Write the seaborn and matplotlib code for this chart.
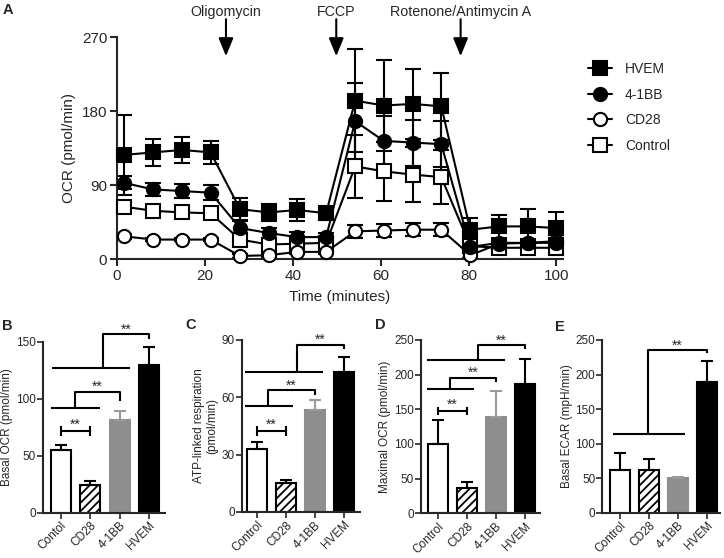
import matplotlib
matplotlib.use("Agg")
import matplotlib.pyplot as plt
from matplotlib.lines import Line2D
import seaborn as sns

# ------------------------------------------
# Data
# ------------------------------------------
# Panel A: OCR time course
time_min = [1.6, 8.2, 14.8, 21.3, 28.0, 34.5, 41.0, 47.6,
            54.2, 60.7, 67.3, 73.8, 80.4, 87.0, 93.5, 100.0]
hvem = [127, 130, 133, 130, 61, 57, 60, 56, 193, 187, 189, 186, 36, 40, 40, 38]
hvem_err = [49, 16, 16, 14, 13, 10, 13, 8, 63, 55, 43, 41, 14, 14, 21, 20]
bb41 = [93, 85, 83, 81, 38, 32, 27, 27, 168, 144, 142, 140, 15, 20, 20, 20]
bb41_err = [8, 8, 8, 9, 8, 6, 6, 5, 47, 30, 28, 28, 5, 5, 5, 5]
cd28 = [28, 24, 24, 24, 4, 5, 9, 9, 34, 35, 36, 36, 5, 19, 20, 22]
cd28_err = [3, 2, 2, 2, 2, 2, 2, 2, 8, 8, 8, 8, 3, 4, 4, 4]
control = [64, 59, 57, 56, 24, 18, 19, 20, 113, 107, 103, 100, 16, 14, 14, 14]
control_err = [4, 4, 4, 4, 4, 3, 3, 3, 38, 36, 33, 33, 4, 4, 4, 4]

inject_times = [24.8, 49.9, 78.2]
inject_labels = ["Oligomycin", "FCCP", "Rotenone/Antimycin A"]

# Panels B-E: bar charts
groups_b = ["Contol", "CD28", "4-1BB", "HVEM"]
groups = ["Control", "CD28", "4-1BB", "HVEM"]
basal_ocr = [55, 24.5, 81, 130]
basal_ocr_err = [4.5, 3, 8.5, 15]
atp_resp = [33, 15, 53.5, 73]
atp_resp_err = [3.5, 2, 5, 8]
max_ocr = [100, 36.5, 139, 187]
max_ocr_err = [34, 8, 38, 36]
basal_ecar = [62, 61.5, 50, 189]
basal_ecar_err = [24, 16, 2, 30]

# ------------------------------------------
# Style
# ------------------------------------------
sns.set_style("ticks")
plt.rcParams['font.family'] = ['Liberation Sans', 'DejaVu Sans']
plt.rcParams['hatch.linewidth'] = 1.3
plt.rcParams['axes.linewidth'] = 1.5

W, H = 724, 558
fig = plt.figure(figsize=(W / 100, H / 100), dpi=100)


def px_axes(left, top, right, bottom):
    return fig.add_axes([left / W, 1 - bottom / H, (right - left) / W, (bottom - top) / H])


# ------------------------------------------
# Panel A
# ------------------------------------------
ax = px_axes(117, 37.3, 563, 259.3)

series = [
    ("Control", control, control_err, 's', 'white'),
    ("CD28", cd28, cd28_err, 'o', 'white'),
    ("4-1BB", bb41, bb41_err, 'o', 'black'),
    ("HVEM", hvem, hvem_err, 's', 'black'),
]
for name, y, e, m, fc in series:
    ax.errorbar(time_min, y, yerr=e, fmt='none', ecolor='black', elinewidth=1.5,
                capsize=5.5, capthick=1.5, clip_on=False, zorder=2)
    sns.lineplot(x=time_min, y=y, ax=ax, color='black', lw=1.5, marker=m,
                 markersize=9.5, markerfacecolor=fc, markeredgecolor='black',
                 markeredgewidth=1.5, clip_on=False, zorder=3, legend=False)

ax.set_xlim(0, 101.5)
ax.set_ylim(0, 270)
ax.set_xticks([0, 20, 40, 60, 80, 100])
ax.set_yticks([0, 90, 180, 270])
ax.tick_params(width=1.5, length=5, labelsize=11, pad=2)
ax.set_xlabel("Time (minutes)", fontsize=11, labelpad=5)
ax.set_ylabel("OCR (pmol/min)", fontsize=11, labelpad=4)
sns.despine(ax=ax)

for x, lab in zip(inject_times, inject_labels):
    ax.annotate('', xy=(x, 247), xytext=(x, 292),
                arrowprops=dict(arrowstyle='-|>,head_length=1.1,head_width=0.45',
                                color='black', lw=1.5, shrinkA=0, shrinkB=0,
                                mutation_scale=10),
                annotation_clip=False)
    ax.text(x, 301, lab, ha='center', va='center', fontsize=10.3)

handles = []
for name, y, e, m, fc in series[::-1]:
    handles.append(Line2D([], [], color='black', lw=1.5, marker=m, markersize=9.5,
                          markerfacecolor=fc, markeredgecolor='black',
                          markeredgewidth=1.5, label=name))
fig.legend(handles=handles, loc='upper left', bbox_to_anchor=(588 / W, 1 - 62 / H),
           frameon=False, fontsize=10, handlelength=1.75, handletextpad=0.9,
           labelspacing=0.83, borderpad=0, borderaxespad=0)

# ------------------------------------------
# Panels B-E
# ------------------------------------------
bar_colors = ['white', 'white', '#8e8e8e', 'black']
edge_colors = ['black', 'black', '#8e8e8e', 'black']
err_colors = ['black', 'black', '#9a9a9a', 'black']


def bar_panel(rect, labels, vals, errs, xlim, ylim, yticks, ylabel, pair, brackets):
    bx = px_axes(*rect)
    sns.barplot(x=labels, y=vals, hue=labels, palette=bar_colors, width=0.68,
                saturation=1, legend=False, ax=bx)
    for i, p in enumerate(bx.patches):
        p.set_edgecolor(edge_colors[i])
        p.set_linewidth(1.5)
        if i == 1:
            p.set_hatch('////')
    for i in range(4):
        bx.errorbar(i, vals[i], yerr=[[0], [errs[i]]], fmt='none', ecolor=err_colors[i],
                    elinewidth=1.5, capsize=4.3, capthick=1.5, zorder=1)
    bx.set_xlim(*xlim)
    bx.set_ylim(*ylim)
    bx.set_yticks(yticks)
    bx.set_xlabel("")
    bx.set_ylabel(ylabel, fontsize=8.5, labelpad=2)
    bx.tick_params(width=1.2, length=4, labelsize=8.5, pad=1)
    bx.set_xticks(range(4))
    bx.set_xticklabels(labels, rotation=45, ha='right', rotation_mode='anchor')
    sns.despine(ax=bx)

    kw = dict(color='black', lw=1.5, clip_on=False, solid_capstyle='butt')
    if pair is not None:
        xa, xb, y, cap = pair
        bx.plot([xa, xb], [y, y], **kw)
        bx.plot([xa, xa], [y - cap, y + cap], **kw)
        bx.plot([xb, xb], [y - cap, y + cap], **kw)
        bx.annotate("**", xy=((xa + xb) / 2, y), xytext=(0, 1.5), textcoords='offset points',
                    ha='center', va='baseline', fontsize=10, annotation_clip=False)
    for x0, x1, ylow, xv, yhigh, xr, ydrop in brackets:
        bx.plot([x0, x1], [ylow, ylow], **kw)
        bx.plot([xv, xv, xr, xr], [ylow, yhigh, yhigh, ydrop], **kw)
        bx.annotate("**", xy=((xv + xr) / 2, yhigh), xytext=(0, 0.5), textcoords='offset points',
                    ha='center', va='baseline', fontsize=10, annotation_clip=False)
    return bx


bar_panel((42.7, 341.7, 165, 512.7), groups_b, basal_ocr, basal_ocr_err,
          (-0.61, 3.54), (0, 150), [0, 50, 100, 150], "Basal OCR (pmol/min)",
          (0, 1, 71.6, 4.3),
          [(-0.34, 1.33, 91.5, 0.49, 106, 2.0, 98),
           (-0.28, 2.35, 126.6, 1.44, 156.7, 3.0, 152)])

bar_panel((241.7, 340, 360, 512), groups, atp_resp, atp_resp_err,
          (-0.51, 3.54), (0, 90), [0, 30, 60, 90], "ATP-linked respiration\n(pmol/min)",
          (0, 1, 42.4, 2.6),
          [(-0.4, 1.25, 55.5, 0.4, 63.8, 2.0, 61.2),
           (-0.4, 2.28, 73.1, 1.38, 87.4, 2.98, 85.3)])

bar_panel((420.7, 340, 540, 513.3), groups, max_ocr, max_ocr_err,
          (-0.6, 3.52), (0, 250), [0, 50, 100, 150, 200, 250], "Maximal OCR (pmol/min)",
          (0, 1, 148, 5.8),
          [(-0.39, 1.25, 179, 0.41, 195.7, 2.0, 189),
           (-0.39, 2.31, 221, 1.39, 242.8, 3.0, 237)])

bar_panel((602.3, 340, 720, 512.7), groups, basal_ecar, basal_ecar_err,
          (-0.6, 3.45), (0, 250), [0, 50, 100, 150, 200, 250], "Basal ECAR (mpH/min)",
          None,
          [(-0.23, 2.26, 113.4, 0.97, 235.5, 3.0, 230.7)])

# Panel letters
for x, y, letter in [(3, 3, "A"), (2, 319, "B"), (185, 318, "C"), (375, 318, "D"), (555, 320, "E")]:
    fig.text(x / W, 1 - y / H, letter, fontsize=10.5, fontweight='bold', ha='left', va='top')

fig.savefig("out.png", dpi=100)
